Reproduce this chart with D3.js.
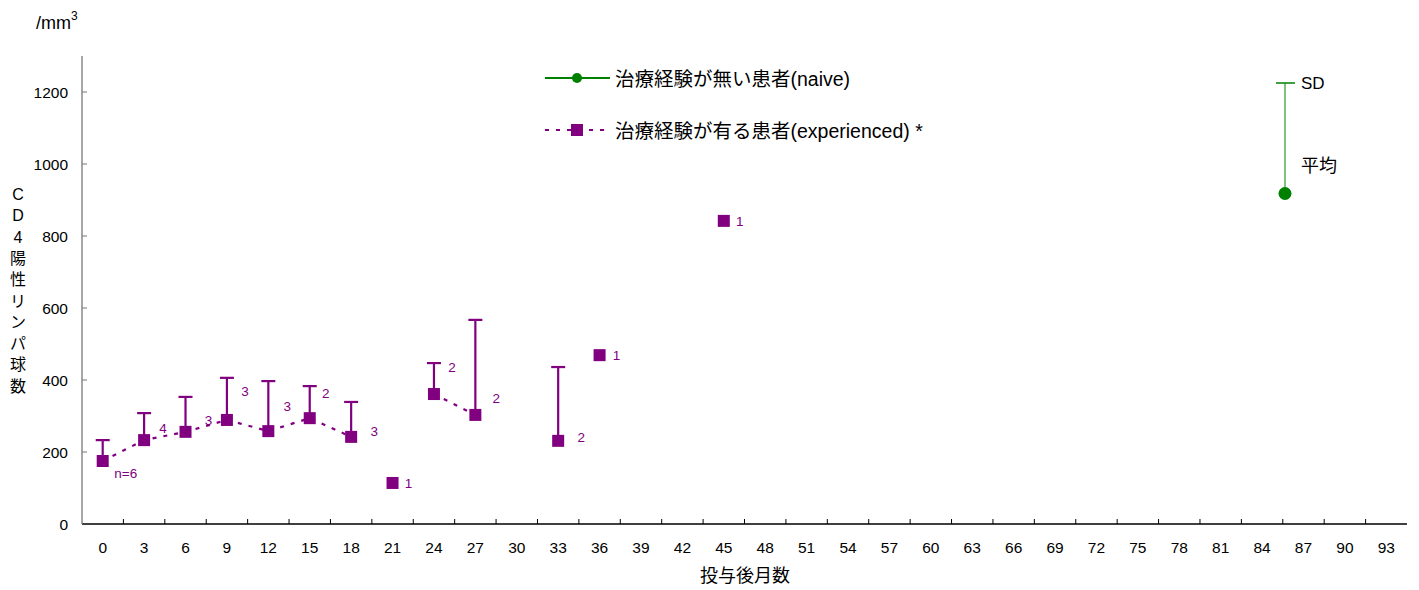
<!DOCTYPE html>
<html><head><meta charset="utf-8">
<script src="https://cdn.jsdelivr.net/npm/d3@7"></script>
<style>
body{margin:0;background:#fff;}
text{font-family:"Liberation Sans","Noto Sans CJK JP",sans-serif;}
</style></head>
<body><svg id="c" width="1419" height="590"></svg>
<script>
const categories = d3.range(0, 94, 3).map(String);
const yTicks = [0, 200, 400, 600, 800, 1000, 1200];
const expMonths = ["0","3","6","9","12","15","18","21","24","27","33","36","45"];
const expMean =   [175, 233, 256, 289, 258, 294, 242, 114, 361, 303, 231, 469, 842];
const expSDTop =  [233, 308, 353, 406, 397, 383, 339, null, 447, 567, 436, null, null];
const expN =      [6, 4, 3, 3, 3, 2, 3, 1, 2, 2, 2, 1, 1];
const expLabels = ["n=6","4","3","3","3","2","3","1","2","2","2","1","1"];
// label placement offsets (dx, dy) relative to the marker
const labelOffsets = [[23,12],[19,-12],[23,-12],[18,-29],[19,-25],[16,-25],[23,-6],[16,0],[18,-27],[21,-17],[23,-4],[17,0],[16,0]];
const legendNames = ["治療経験が無い患者(naive)", "治療経験が有る患者(experienced) *"];
const yAxisTitle = ["C","D","4","陽","性","リ","ン","パ","球","数"];

const purple = "#800080", green = "#008000";
const svg = d3.select("#c");
const x = d3.scaleBand().domain(categories).range([82, 1407]);
const y = d3.scaleLinear().domain([0, 1300]).range([524, 56]);

// axes
const xAxisG = svg.append("g");
xAxisG.append("line").attr("x1",82).attr("x2",1407).attr("y1",y(0)).attr("y2",y(0)).attr("stroke","#000").attr("stroke-width",1.3);
xAxisG.selectAll(".xt").data(categories.slice(1)).join("line")
  .attr("x1",d=>x(d)).attr("x2",d=>x(d)).attr("y1",y(0)).attr("y2",y(0)-5).attr("stroke","#000");
xAxisG.selectAll(".xl").data(categories).join("text")
  .attr("x",d=>x(d)+x.bandwidth()/2).attr("y",y(0)+29).attr("text-anchor","middle")
  .attr("font-size",15.5).text(d=>d);

const yAxisG = svg.append("g");
yAxisG.append("line").attr("x1",82).attr("x2",82).attr("y1",56).attr("y2",y(0)).attr("stroke","#777").attr("stroke-width",1.3);
yAxisG.selectAll(".yt").data(yTicks.slice(1)).join("line")
  .attr("x1",82).attr("x2",87).attr("y1",d=>y(d)).attr("y2",d=>y(d)).attr("stroke","#777");
yAxisG.selectAll(".yl").data(yTicks).join("text")
  .attr("x",68).attr("y",d=>y(d)+5.5).attr("text-anchor","end").attr("font-size",15.5).text(d=>d);

// titles
svg.append("text").attr("x",36).attr("y",29).attr("font-size",18).text("/mm")
  .append("tspan").attr("font-size",12).attr("dy",-9).text("3");
svg.selectAll(".yat").data(yAxisTitle).join("text")
  .attr("x",18).attr("y",(d,i)=>200+i*21.3).attr("text-anchor","middle").attr("font-size",16).text(d=>d);
svg.append("text").attr("x",745).attr("y",582).attr("text-anchor","middle").attr("font-size",18).text("投与後月数");

// data
const pts = expMonths.map((m,i)=>({m, idx:categories.indexOf(m), mean:expMean[i], top:expSDTop[i], n:expN[i], label:expLabels[i], off:labelOffsets[i]}));
const cx = d => x(d.m)+x.bandwidth()/2;

// dashed line: connects consecutive categories where n>=2
const segs = [];
let cur = [];
pts.forEach((p,i)=>{
  const prev = pts[i-1];
  if (p.n>=2 && prev && prev.n>=2 && prev.idx===p.idx-1) { cur.push(p); }
  else { if (cur.length>1) segs.push(cur); cur = p.n>=2 ? [p] : []; }
});
if (cur.length>1) segs.push(cur);
const line = d3.line().x(cx).y(d=>y(d.mean));
svg.selectAll(".seg").data(segs).join("path").attr("d",line)
  .attr("fill","none").attr("stroke",purple).attr("stroke-width",2.2).attr("stroke-dasharray","4,7");

// error bars
const eb = pts.filter(p=>p.top!=null);
svg.selectAll(".ebv").data(eb).join("line")
  .attr("x1",cx).attr("x2",cx).attr("y1",d=>y(d.mean)).attr("y2",d=>y(d.top)).attr("stroke",purple).attr("stroke-width",2.2);
svg.selectAll(".ebc").data(eb).join("line")
  .attr("x1",d=>cx(d)-7).attr("x2",d=>cx(d)+7).attr("y1",d=>y(d.top)).attr("y2",d=>y(d.top)).attr("stroke",purple).attr("stroke-width",2.2);

// markers
svg.selectAll(".mk").data(pts).join("rect")
  .attr("x",d=>cx(d)-6).attr("y",d=>y(d.mean)-6).attr("width",12).attr("height",12).attr("fill",purple);
svg.selectAll(".lb").data(pts).join("text")
  .attr("x",d=>cx(d)+d.off[0]).attr("y",d=>y(d.mean)+d.off[1]+5).attr("text-anchor","middle")
  .attr("font-size",13.5).attr("fill",purple).text(d=>d.label);

// legend
const lg = svg.append("g");
lg.append("line").attr("x1",545).attr("x2",610).attr("y1",78).attr("y2",78).attr("stroke",green).attr("stroke-width",2);
lg.append("circle").attr("cx",577).attr("cy",78).attr("r",5).attr("fill",green);
lg.append("text").attr("x",615).attr("y",86).attr("font-size",19.5).text(legendNames[0]);
lg.append("line").attr("x1",545).attr("x2",610).attr("y1",130).attr("y2",130).attr("stroke",purple).attr("stroke-width",2.2).attr("stroke-dasharray","4,7");
lg.append("rect").attr("x",571).attr("y",124).attr("width",12).attr("height",12).attr("fill",purple);
lg.append("text").attr("x",615).attr("y",138).attr("font-size",19.5).text(legendNames[1]);

// SD / mean key
const k = svg.append("g");
k.append("line").attr("x1",1285).attr("x2",1285).attr("y1",83).attr("y2",193).attr("stroke",green).attr("stroke-width",1);
k.append("line").attr("x1",1276).attr("x2",1295).attr("y1",83).attr("y2",83).attr("stroke",green).attr("stroke-width",1.5);
k.append("circle").attr("cx",1285).attr("cy",193.5).attr("r",6.5).attr("fill",green);
k.append("text").attr("x",1301).attr("y",89).attr("font-size",17).text("SD");
k.append("text").attr("x",1301).attr("y",172).attr("font-size",18).text("平均");
</script></body></html>
